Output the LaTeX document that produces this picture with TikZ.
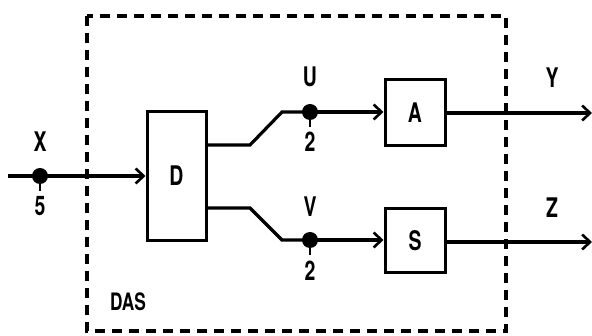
\documentclass[tikz,border=0pt]{standalone}
\usepackage{fontspec}
\setmainfont[FakeStretch=0.72]{TeX Gyre Heros}
\usetikzlibrary{arrows.meta}
\begin{document}
\begin{tikzpicture}[x=1pt,y=-1pt,
  line width=3.2pt,
  blk/.style={draw,rectangle,line width=3pt,inner sep=0pt,font=\bfseries\fontsize{27}{27}\selectfont},
  lbl/.style={inner sep=0pt,font=\bfseries\fontsize{27}{27}\selectfont},
  dotn/.style={circle,fill,inner sep=0pt,minimum size=16pt},
  arr/.style={-{Straight Barb[length=8pt,width=15pt,line width=2.6pt]}},
  frame/.style={line width=3.4pt,dash pattern=on 10pt off 7pt}]
\useasboundingbox (0,0) rectangle (592,336);
% frame
\draw[frame] (87,16) rectangle (506,331);
% blocks
\node[blk,minimum width=59pt,minimum height=129pt] (D) at (176.5,176) {D};
\node[blk,minimum width=60pt,minimum height=66pt] (A) at (415,113) {A};
\node[blk,minimum width=60pt,minimum height=64pt] (S) at (415,241) {S};
% dots
\node[dotn] (x) at (40,176) {};
\node[dotn] (u) at (310,112) {};
\node[dotn] (v) at (310,240) {};
\coordinate (in) at (8,176);
\coordinate (yo) at (592,113);
\coordinate (zo) at (592,242);
% labels
\node[lbl] (xl) at (40,142) {X};
\node[lbl] (x5) at (40,206) {5};
\node[lbl] (ul) at (310,77) {U};
\node[lbl] (u2) at (310,142) {2};
\node[lbl] (vl) at (310,207) {V};
\node[lbl] (v2) at (310,271) {2};
\node[lbl] (yl) at (552,78) {Y};
\node[lbl] (zl) at (552,208) {Z};
\node[lbl,font=\bfseries\fontsize{24}{24}\selectfont] (das) at (128,302) {DAS};
% stems
\draw[line width=2.4pt] (x.center) -- ++(0,15);
\draw[line width=2.4pt] (u.center) -- ++(0,15);
\draw[line width=2.4pt] (v.center) -- ++(0,15);
% connectors
\draw[arr] (in) -- (x.center) -- (D.west);
\draw (D.east |- 0,145) -- (250,145) -- (282,112) -- (u.center);
\draw[arr] (u.center) -- (A.west |- u.center);
\draw (D.east |- 0,208) -- (250,208) -- (282,240) -- (v.center);
\draw[arr] (v.center) -- (S.west |- v.center);
\draw[arr] (A.east |- yo) -- (yo);
\draw[arr] (S.east |- zo) -- (zo);
\end{tikzpicture}
\end{document}
